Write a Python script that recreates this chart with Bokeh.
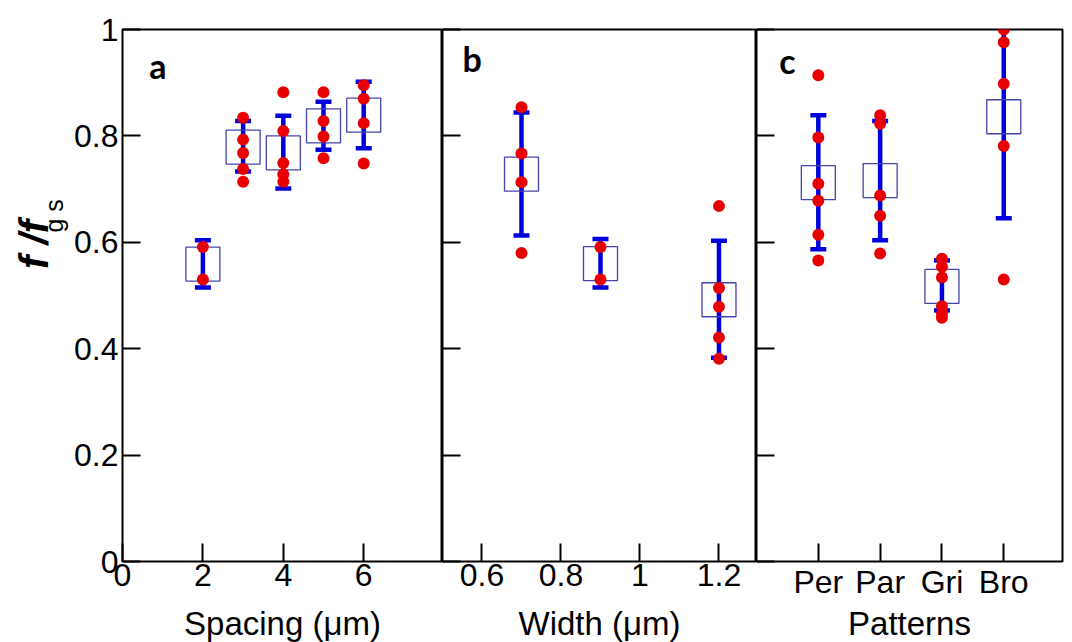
import math
from bokeh.plotting import figure
from bokeh.layouts import row
from bokeh.models import FixedTicker, Label, ColumnDataSource, Range1d
from bokeh.embed import file_html
from bokeh.resources import INLINE

# ---------------- data ----------------
spacing_x = [2, 3, 4, 5, 6]
spacing_mean = [0.559, 0.779, 0.768, 0.819, 0.839]
spacing_lower = [0.515, 0.733, 0.701, 0.774, 0.777]
spacing_upper = [0.604, 0.828, 0.838, 0.864, 0.902]
spacing_points = [
    [0.591, 0.530],
    [0.834, 0.793, 0.768, 0.738, 0.714],
    [0.882, 0.809, 0.749, 0.728, 0.714],
    [0.882, 0.828, 0.799, 0.758],
    [0.895, 0.870, 0.824, 0.748],
]

width_x = [0.7, 0.9, 1.2]
width_mean = [0.728, 0.560, 0.492]
width_lower = [0.613, 0.515, 0.383]
width_upper = [0.844, 0.606, 0.603]
width_points = [
    [0.854, 0.767, 0.713, 0.580],
    [0.591, 0.530],
    [0.668, 0.514, 0.479, 0.421, 0.381],
]

pattern_names = ["Per", "Par", "Gri", "Bro"]
pattern_x = [1, 2, 3, 4]
pattern_mean = [0.712, 0.716, 0.517, 0.836]
pattern_lower = [0.587, 0.604, 0.472, 0.645]
pattern_upper = [0.839, 0.828, 0.566, 1.027]
pattern_points = [
    [0.914, 0.797, 0.710, 0.678, 0.614, 0.566],
    [0.839, 0.823, 0.688, 0.650, 0.579],
    [0.569, 0.554, 0.534, 0.480, 0.466, 0.458],
    [1.000, 0.976, 0.898, 0.781, 0.530],
]

y_ticks = [0, 0.2, 0.4, 0.6, 0.8, 1]

# ---------------- style ----------------
RED = "#e80000"
BLUE = "#0000dc"
BOX = "#4444aa"
FONT = "Liberation Sans"
TICK_SIZE = "32px"
TITLE_SIZE = "33px"
FRAME_H = 532
STRIP_W = 70


def make_panel(xr, frame_w, left, right, xticks, overrides, xlabel,
               label_standoff, show_ylabels):
    p = figure(frame_width=frame_w, frame_height=FRAME_H,
               x_range=Range1d(*xr), y_range=Range1d(0, 1),
               output_backend="svg", toolbar_location=None,
               min_border_left=left, min_border_right=right,
               min_border_top=29, min_border_bottom=81)
    p.grid.visible = False
    p.outline_line_color = "black"
    p.outline_line_width = 2
    p.background_fill_color = "white"
    p.border_fill_color = "white"

    xa = p.xaxis[0]
    xa.ticker = FixedTicker(ticks=xticks)
    xa.major_label_overrides = overrides
    xa.major_tick_in = 18
    xa.major_tick_out = 0
    xa.major_tick_line_width = 2
    xa.minor_tick_line_color = None
    xa.axis_line_color = None
    xa.major_label_text_font = FONT
    xa.major_label_text_font_size = TICK_SIZE
    xa.major_label_text_color = "black"
    xa.major_label_standoff = 2
    xa.axis_label = xlabel
    xa.axis_label_text_font = FONT
    xa.axis_label_text_font_size = TITLE_SIZE
    xa.axis_label_text_font_style = "normal"
    xa.axis_label_text_color = "black"
    xa.axis_label_standoff = label_standoff

    ya = p.yaxis[0]
    ya.axis_line_color = None
    if show_ylabels:
        ya.ticker = FixedTicker(ticks=y_ticks)
        ya.major_tick_in = 18
        ya.major_tick_out = 0
        ya.major_tick_line_width = 2
        ya.minor_tick_line_color = None
        ya.major_label_overrides = {0: "0", 1: "1"}
        ya.major_label_text_font = FONT
        ya.major_label_text_font_size = TICK_SIZE
        ya.major_label_text_color = "black"
        ya.major_label_standoff = 4
    else:
        # unlabeled inward ticks on the panel divider
        ya.ticker = FixedTicker(ticks=[], minor_ticks=y_ticks)
        ya.minor_tick_in = 18
        ya.minor_tick_out = 0
        ya.minor_tick_line_width = 2
        ya.minor_tick_line_color = "black"
        ya.major_label_standoff = 0
    return p


def draw(p, xs, mean, lower, upper, points):
    src = ColumnDataSource(dict(x=xs, mean=mean, lower=lower, upper=upper))
    p.segment(x0="x", y0="lower", x1="x", y1="upper", source=src,
              line_color=BLUE, line_width=4.5)
    p.scatter(x="x", y="lower", source=src, marker="dash", size=16,
              line_color=BLUE, line_width=4.5)
    p.scatter(x="x", y="upper", source=src, marker="dash", size=16,
              line_color=BLUE, line_width=4.5)
    p.scatter(x="x", y="mean", source=src, marker="square", size=34,
              fill_color=None, line_color=BOX, line_width=1.3)
    px, py = [], []
    for xv, grp in zip(xs, points):
        for v in grp:
            px.append(xv)
            py.append(v)
    p.scatter(x=px, y=py, marker="circle", size=12,
              fill_color=RED, line_color=RED, line_width=0)


def panel_letter(p, x, y, t):
    p.add_layout(Label(x=x, y=y, text=t, text_font="Lato",
                       text_font_style="bold", text_font_size="34px",
                       text_align="center", text_baseline="middle",
                       text_color="black"))


# ---- strip that carries the rotated y-axis title f_g / f_s ----
strip = figure(width=STRIP_W, height=642, x_range=Range1d(0, STRIP_W),
               y_range=Range1d(642, 0), output_backend="svg",
               toolbar_location=None, x_axis_location=None,
               y_axis_location=None, min_border=0)
strip.grid.visible = False
strip.outline_line_color = None
strip.background_fill_color = "white"
strip.border_fill_color = "white"
strip.add_layout(Label(x=33, y=290, text="f  /f", angle=math.pi / 2,
                       text_font=FONT, text_font_style="bold italic",
                       text_font_size="40px", text_align="left",
                       text_baseline="alphabetic", text_color="black"))
strip.add_layout(Label(x=53, y=246, text="g s", angle=math.pi / 2,
                       text_font=FONT, text_font_size="25px",
                       text_align="left", text_baseline="alphabetic",
                       text_color="black"))

pa = make_panel((0, 7.96), 320, 122 - STRIP_W, 0, [0, 2, 4, 6], {},
                "Spacing (\u03bcm)", 16, True)
draw(pa, spacing_x, spacing_mean, spacing_lower, spacing_upper, spacing_points)
panel_letter(pa, 0.88, 0.932, "a")

pb = make_panel((0.5, 1.295), 314, 0, 0, [0.6, 0.8, 1, 1.2], {1: "1"},
                "Width (\u03bcm)", 16, False)
draw(pb, width_x, width_mean, width_lower, width_upper, width_points)
panel_letter(pb, 0.575, 0.946, "b")

pc = make_panel((0, 4.95), 306, 0, 2, pattern_x,
                {xv: nm for xv, nm in zip(pattern_x, pattern_names)},
                "Patterns", 2, False)
draw(pc, pattern_x, pattern_mean, pattern_lower, pattern_upper, pattern_points)
panel_letter(pc, 0.5, 0.941, "c")

layout = row(strip, pa, pb, pc)
open("out.html", "w").write(file_html(layout, INLINE))
